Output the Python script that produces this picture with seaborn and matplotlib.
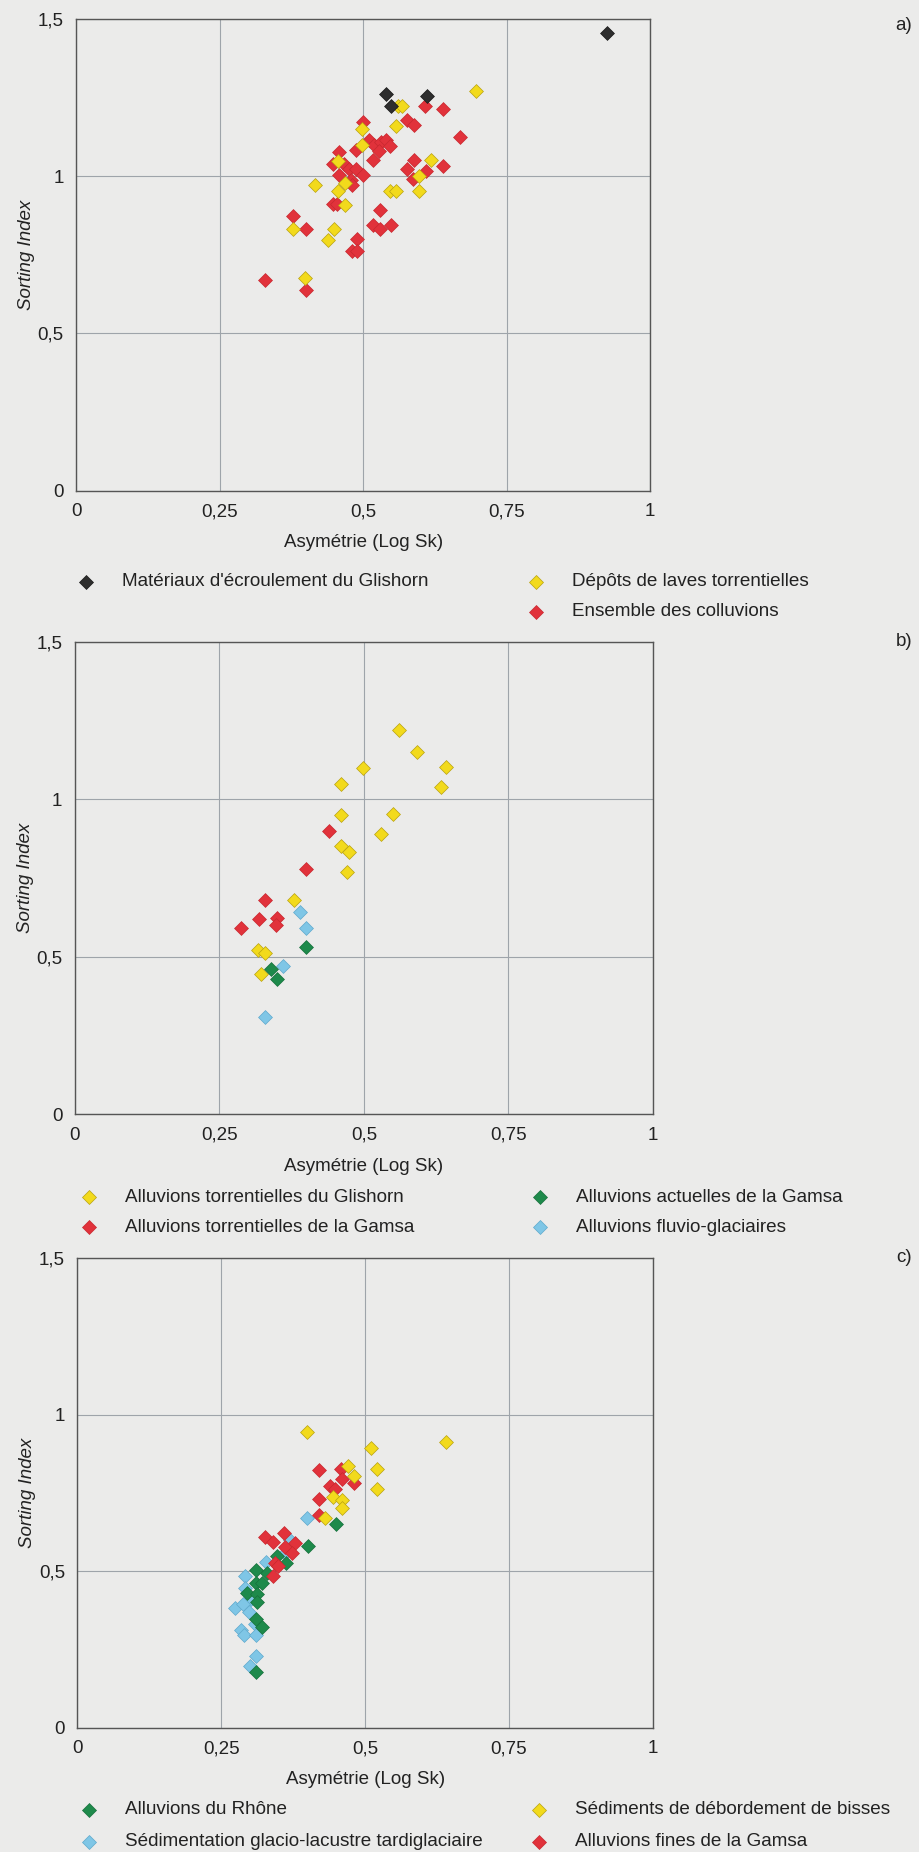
import matplotlib
matplotlib.use("Agg")
import matplotlib.pyplot as plt
import seaborn as sns
import pandas as pd
from matplotlib.lines import Line2D

# a) colluvions
glis_x = [0.540, 0.549, 0.611, 0.926]
glis_y = [1.261, 1.222, 1.253, 1.455]
laves_x = [0.697, 0.560, 0.568, 0.557, 0.498, 0.498, 0.618, 0.456, 0.468, 0.597,
           0.416, 0.456, 0.546, 0.558, 0.597, 0.468, 0.377, 0.449, 0.438, 0.399]
laves_y = [1.270, 1.222, 1.222, 1.160, 1.148, 1.100, 1.050, 1.048, 0.979, 1.000,
           0.970, 0.952, 0.952, 0.952, 0.952, 0.909, 0.831, 0.832, 0.796, 0.677]
colluv_x = [0.608, 0.640, 0.577, 0.589, 0.500, 0.669, 0.510, 0.519, 0.531, 0.540,
            0.547, 0.528, 0.518, 0.488, 0.458, 0.448, 0.467, 0.476, 0.487, 0.500,
            0.458, 0.478, 0.480, 0.589, 0.577, 0.610, 0.587, 0.640, 0.448, 0.455,
            0.529, 0.378, 0.400, 0.517, 0.529, 0.548, 0.490, 0.480, 0.490, 0.329, 0.400]
colluv_y = [1.222, 1.214, 1.179, 1.161, 1.172, 1.123, 1.113, 1.097, 1.108, 1.113,
            1.094, 1.079, 1.050, 1.081, 1.076, 1.039, 1.039, 1.023, 1.023, 1.002,
            1.002, 0.986, 0.970, 1.052, 1.023, 1.016, 0.992, 1.031, 0.910, 0.910,
            0.891, 0.872, 0.832, 0.846, 0.833, 0.844, 0.799, 0.762, 0.761, 0.669, 0.639]

# b) alluvions torrentielles / fluvio-glaciaires
tglis_x = [0.561, 0.592, 0.499, 0.642, 0.460, 0.633, 0.460, 0.551, 0.530, 0.460,
           0.474, 0.470, 0.379, 0.317, 0.329, 0.322]
tglis_y = [1.221, 1.149, 1.100, 1.102, 1.047, 1.039, 0.951, 0.953, 0.889, 0.853,
           0.834, 0.769, 0.681, 0.523, 0.511, 0.447]
tgam_x = [0.439, 0.399, 0.329, 0.318, 0.349, 0.348, 0.288]
tgam_y = [0.898, 0.779, 0.679, 0.621, 0.624, 0.600, 0.592]
fluvio_x = [0.389, 0.400, 0.360, 0.329]
fluvio_y = [0.642, 0.592, 0.472, 0.308]
actu_x = [0.399, 0.339, 0.349]
actu_y = [0.532, 0.462, 0.429]

# c) sédiments fins
bisses_x = [0.399, 0.641, 0.510, 0.470, 0.521, 0.480, 0.521, 0.444, 0.460, 0.460, 0.430]
bisses_y = [0.945, 0.912, 0.894, 0.837, 0.827, 0.803, 0.764, 0.736, 0.726, 0.702, 0.670]
fines_x = [0.420, 0.458, 0.459, 0.480, 0.439, 0.448, 0.420, 0.420, 0.326, 0.340,
           0.359, 0.378, 0.360, 0.372, 0.343, 0.349, 0.340]
fines_y = [0.824, 0.827, 0.793, 0.782, 0.773, 0.763, 0.732, 0.681, 0.610, 0.594,
           0.622, 0.590, 0.577, 0.559, 0.527, 0.516, 0.484]
rhone_x = [0.450, 0.400, 0.347, 0.363, 0.330, 0.310, 0.310, 0.320, 0.294, 0.312,
           0.312, 0.311, 0.320, 0.310]
rhone_y = [0.651, 0.582, 0.548, 0.527, 0.493, 0.503, 0.463, 0.463, 0.431, 0.426,
           0.401, 0.349, 0.322, 0.178]
lacus_x = [0.399, 0.369, 0.360, 0.327, 0.292, 0.291, 0.301, 0.273, 0.288, 0.298,
           0.308, 0.285, 0.290, 0.310, 0.310, 0.299]
lacus_y = [0.670, 0.599, 0.559, 0.529, 0.486, 0.447, 0.410, 0.383, 0.394, 0.370,
           0.333, 0.314, 0.295, 0.295, 0.231, 0.199]

x_ticks = [0, 0.25, 0.5, 0.75, 1]
x_labels = ["0", "0,25", "0,5", "0,75", "1"]
y_ticks = [0, 0.5, 1, 1.5]
y_labels = ["0", "0,5", "1", "1,5"]

BG = "#ebebea"
BLACK = "#2e2e2e"
YELLOW = "#f2da1c"
RED = "#e1323b"
GREEN = "#1e8a4b"
BLUE = "#7fc6e6"
EDGE = {BLACK: "#1a1a1a", YELLOW: "#b8a212", RED: "#c8282f", GREEN: "#17703c", BLUE: "#5fa9cc"}

sns.set_style("white", {"axes.facecolor": BG, "figure.facecolor": BG})
plt.rcParams["font.family"] = ["Liberation Sans", "DejaVu Sans"]

fig = plt.figure(figsize=(9.2, 18.52), dpi=100)


def scatter(ax, xs, ys, color):
    df = pd.DataFrame({"x": xs, "y": ys})
    sns.scatterplot(data=df, x="x", y="y", ax=ax, marker="D", s=50,
                    color=color, edgecolor=EDGE[color], linewidth=0.5,
                    legend=False, zorder=3)


def style_axes(ax):
    ax.set_xlim(0, 1)
    ax.set_ylim(0, 1.5)
    ax.set_xticks(x_ticks)
    ax.set_xticklabels(x_labels)
    ax.set_yticks(y_ticks)
    ax.set_yticklabels(y_labels)
    ax.tick_params(length=0, labelsize=13.5, colors="#222222", pad=9)
    ax.grid(True, color="#9ea4aa", linewidth=0.8)
    ax.set_axisbelow(True)
    for sp in ax.spines.values():
        sp.set_color("#555555")
        sp.set_linewidth(1.0)
    ax.set_xlabel("Asymétrie (Log Sk)", fontsize=13.5, color="#222222", labelpad=10)
    ax.set_ylabel("Sorting Index", fontsize=13.5, style="italic", color="#222222", labelpad=2)


def legend_entry(px, py, color, label):
    # px, py in pixels from top-left of the figure
    fx, fy = px / 920, 1 - py / 1852
    fig.add_artist(Line2D([fx], [fy], transform=fig.transFigure, marker="D",
                          markersize=7, color=color, markeredgecolor=EDGE[color],
                          markeredgewidth=0.5, linestyle="none"))
    fig.text(fx + 36 / 920, fy, label, fontsize=13.6, color="#222222", va="center")


def panel_tag(py, tag):
    fig.text(912 / 920, 1 - py / 1852, tag, fontsize=13.5, ha="right", va="center", color="#222222")


# panel a
ax1 = fig.add_axes([0.083, 0.7349, 0.6234, 0.2551])
scatter(ax1, colluv_x, colluv_y, RED)
scatter(ax1, laves_x, laves_y, YELLOW)
scatter(ax1, glis_x, glis_y, BLACK)

# panel b
ax2 = fig.add_axes([0.0815, 0.3983, 0.628, 0.2552])
scatter(ax2, tglis_x, tglis_y, YELLOW)
scatter(ax2, tgam_x, tgam_y, RED)
scatter(ax2, fluvio_x, fluvio_y, BLUE)
scatter(ax2, actu_x, actu_y, GREEN)

# panel c
ax3 = fig.add_axes([0.0842, 0.0670, 0.6255, 0.2538])
scatter(ax3, lacus_x, lacus_y, BLUE)
scatter(ax3, rhone_x, rhone_y, GREEN)
scatter(ax3, fines_x, fines_y, RED)
scatter(ax3, bisses_x, bisses_y, YELLOW)

for ax in (ax1, ax2, ax3):
    style_axes(ax)

panel_tag(26, "a)")
panel_tag(642, "b)")
panel_tag(1257, "c)")

legend_entry(86, 582, BLACK, "Matériaux d'écroulement du Glishorn")
legend_entry(536, 582, YELLOW, "Dépôts de laves torrentielles")
legend_entry(536, 612, RED, "Ensemble des colluvions")

legend_entry(89, 1197, YELLOW, "Alluvions torrentielles du Glishorn")
legend_entry(89, 1227, RED, "Alluvions torrentielles de la Gamsa")
legend_entry(540, 1197, GREEN, "Alluvions actuelles de la Gamsa")
legend_entry(540, 1227, BLUE, "Alluvions fluvio-glaciaires")

legend_entry(89, 1810, GREEN, "Alluvions du Rhône")
legend_entry(89, 1842, BLUE, "Sédimentation glacio-lacustre tardiglaciaire")
legend_entry(539, 1810, YELLOW, "Sédiments de débordement de bisses")
legend_entry(539, 1842, RED, "Alluvions fines de la Gamsa")

fig.savefig("out.png", dpi=100, facecolor=BG)
